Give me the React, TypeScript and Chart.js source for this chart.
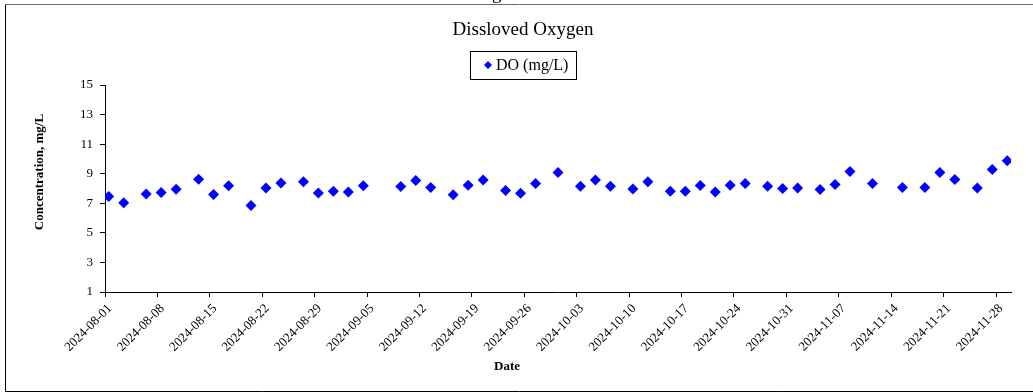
import React, { useEffect, useRef } from "react";
import { Chart, registerables } from "chart.js";

Chart.register(...registerables);

const chartTitle = "Dissloved Oxygen";
const seriesLabel = "DO (mg/L)";
const xAxisTitle = "Date";
const yAxisTitle = "Concentration, mg/L";

const sampleDates = [
  "2024-08-01", "2024-08-03", "2024-08-06", "2024-08-08", "2024-08-10",
  "2024-08-13", "2024-08-15", "2024-08-17", "2024-08-20", "2024-08-22",
  "2024-08-24", "2024-08-27", "2024-08-29", "2024-08-31", "2024-09-02",
  "2024-09-04", "2024-09-09", "2024-09-11", "2024-09-13", "2024-09-16",
  "2024-09-18", "2024-09-20", "2024-09-23", "2024-09-25", "2024-09-27",
  "2024-09-30", "2024-10-03", "2024-10-05", "2024-10-07", "2024-10-10",
  "2024-10-12", "2024-10-15", "2024-10-17", "2024-10-19", "2024-10-21",
  "2024-10-23", "2024-10-25", "2024-10-28", "2024-10-30", "2024-11-01",
  "2024-11-04", "2024-11-06", "2024-11-08", "2024-11-11", "2024-11-15",
  "2024-11-18", "2024-11-20", "2024-11-22", "2024-11-25", "2024-11-27",
  "2024-11-29",
];

const doValues = [
  7.46, 7.03, 7.63, 7.73, 7.95,
  8.63, 7.59, 8.18, 6.85, 8.04,
  8.38, 8.45, 7.70, 7.82, 7.77,
  8.18, 8.14, 8.54, 8.07, 7.57,
  8.22, 8.58, 7.87, 7.68, 8.34,
  9.08, 8.16, 8.58, 8.16, 7.97,
  8.45, 7.82, 7.82, 8.20, 7.77,
  8.22, 8.34, 8.16, 8.00, 8.04,
  7.93, 8.27, 9.15, 8.34, 8.07,
  8.07, 9.08, 8.61, 8.04, 9.29,
  9.87,
];

const xTickLabels = [
  "2024-08-01", "2024-08-08", "2024-08-15", "2024-08-22", "2024-08-29",
  "2024-09-05", "2024-09-12", "2024-09-19", "2024-09-26", "2024-10-03",
  "2024-10-10", "2024-10-17", "2024-10-24", "2024-10-31", "2024-11-07",
  "2024-11-14", "2024-11-21", "2024-11-28",
];

const axisStartDate = "2024-08-01";
const axisEndDate = "2024-11-30";

const yMin = 1;
const yMax = 15;
const yStep = 2;

const DAY_MS = 86400000;
const dayOffset = (d: string) => (Date.parse(d) - Date.parse(axisStartDate)) / DAY_MS;

const SERIF = '"Liberation Serif", "Times New Roman", serif';
const BLUE = "#0000FF";

export default function App() {
  const canvasRef = useRef<HTMLCanvasElement | null>(null);

  useEffect(() => {
    if (!canvasRef.current) return;

    const tickValues = xTickLabels.map(dayOffset);
    const labelByDay: Record<number, string> = {};
    xTickLabels.forEach((l) => (labelByDay[dayOffset(l)] = l));

    const points = sampleDates.map((d, i) => ({ x: dayOffset(d) + 0.5, y: doValues[i] }));

    const decor = {
      id: "decor",
      beforeDraw(chart: any) {
        const ctx = chart.ctx;
        ctx.save();
        ctx.fillStyle = "#ffffff";
        ctx.fillRect(0, 0, chart.width, chart.height);
        ctx.restore();
      },
      afterDraw(chart: any) {
        const ctx = chart.ctx;
        ctx.save();
        // frame
        ctx.strokeStyle = "#000000";
        ctx.lineWidth = 1;
        ctx.beginPath();
        ctx.moveTo(1040, 391.5);
        ctx.lineTo(5.5, 391.5);
        ctx.lineTo(5.5, 4.5);
        ctx.stroke();
        ctx.strokeStyle = "#6a6a6a";
        ctx.beginPath();
        ctx.moveTo(5, 4.5);
        ctx.lineTo(1040, 4.5);
        ctx.stroke();

        // clipped heading fragment above frame
        ctx.fillStyle = "#000";
        ctx.font = `19px ${SERIF}`;
        ctx.textAlign = "left";
        ctx.textBaseline = "alphabetic";
        ctx.fillText("g", 492, -1);

        // title
        ctx.font = `19px ${SERIF}`;
        ctx.textAlign = "center";
        ctx.fillText(chartTitle, 523, 35);

        // legend box
        ctx.strokeStyle = "#000";
        ctx.strokeRect(470.5, 51.5, 106, 28);
        ctx.fillStyle = BLUE;
        ctx.beginPath();
        ctx.moveTo(488, 61);
        ctx.lineTo(492, 65);
        ctx.lineTo(488, 69);
        ctx.lineTo(484, 65);
        ctx.closePath();
        ctx.fill();
        ctx.fillStyle = "#000";
        ctx.font = `16px ${SERIF}`;
        ctx.textAlign = "left";
        ctx.textBaseline = "middle";
        ctx.fillText(seriesLabel, 496, 66);

        // axis titles
        ctx.font = `bold 13px ${SERIF}`;
        ctx.textAlign = "center";
        ctx.textBaseline = "middle";
        ctx.fillText(xAxisTitle, 507, 367);
        ctx.translate(40, 172);
        ctx.rotate(-Math.PI / 2);
        ctx.fillText(yAxisTitle, 0, 0);
        ctx.restore();
      },
    };

    const chart = new Chart(canvasRef.current, {
      type: "scatter",
      data: {
        datasets: [
          {
            label: seriesLabel,
            data: points,
            pointStyle: "rectRot",
            pointRadius: 5.5,
            pointHoverRadius: 5.5,
            backgroundColor: BLUE,
            borderColor: BLUE,
            borderWidth: 0,
            showLine: false,
          },
        ],
      },
      options: {
        responsive: false,
        animation: false,
        devicePixelRatio: 1,
        layout: { padding: { top: 85, right: 22, bottom: 0, left: 0 } },
        plugins: {
          legend: { display: false },
          title: { display: false },
          tooltip: { enabled: false },
        },
        scales: {
          x: {
            type: "linear",
            min: dayOffset(axisStartDate),
            max: dayOffset(axisEndDate),
            afterBuildTicks: (scale: any) => {
              scale.ticks = tickValues.map((v) => ({ value: v }));
            },
            afterFit: (scale: any) => {
              scale.height = 100;
            },
            grid: {
              display: true,
              drawOnChartArea: false,
              drawTicks: true,
              tickLength: 5,
              color: "#000",
            },
            border: { display: true, color: "#000", width: 1 },
            ticks: {
              autoSkip: false,
              minRotation: 45,
              maxRotation: 45,
              padding: 4,
              labelOffset: 5,
              color: "#000",
              font: { family: SERIF, size: 13 },
              callback: (v: any) => labelByDay[v as number] ?? "",
            },
          },
          y: {
            type: "linear",
            min: yMin,
            max: yMax,
            afterFit: (scale: any) => {
              scale.width = 105;
            },
            grid: {
              display: true,
              drawOnChartArea: false,
              drawTicks: true,
              tickLength: 5,
              color: "#000",
            },
            border: { display: true, color: "#000", width: 1 },
            ticks: {
              stepSize: yStep,
              padding: 7,
              color: "#000",
              font: { family: SERIF, size: 13 },
            },
          },
        },
      },
      plugins: [decor],
    } as any);

    return () => chart.destroy();
  }, []);

  return (
    <div style={{ position: "fixed", left: 0, top: 0, width: 1033, height: 392, background: "#fff" }}>
      <canvas ref={canvasRef} width={1033} height={392} style={{ display: "block" }} />
    </div>
  );
}
